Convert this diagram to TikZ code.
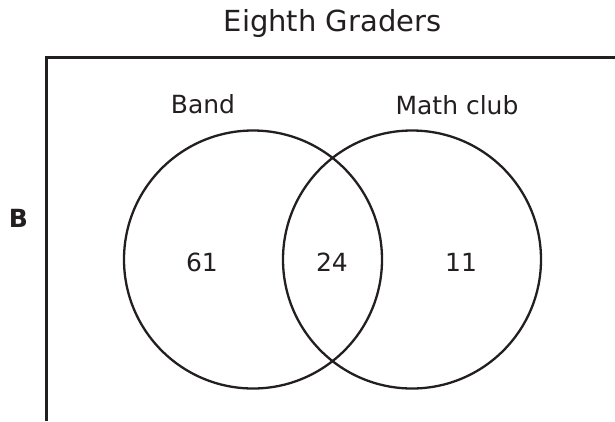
\documentclass[tikz,border=0pt]{standalone}
\usepackage{fontspec}
\setmainfont{DejaVu Sans}
\usepackage{tikz}
\usetikzlibrary{positioning}
\definecolor{ink}{HTML}{231F20}
\tikzset{
  venn/.style={draw=ink, line width=2.3pt},
  lbl/.style={text=ink, inner sep=0pt, anchor=base, font=\fontsize{25}{29}\selectfont},
}

\begin{document}
\begin{tikzpicture}[x=1pt,y=-1pt]
  \useasboundingbox (0,0) rectangle (615,421);
  % frame: only top and left sides show
  \draw[ink, line width=2.5pt] (615,57.7) -- (46.5,57.7) -- (46.5,421);
  \node[lbl, font=\fontsize{29}{33}\selectfont] (title) at (332.5,31.7) {Eighth Graders};
  \node[text=ink, inner sep=0pt, font=\fontsize{25}{28}\selectfont\bfseries] (opt) at (18.5,218) {B};
  % the two sets
  \draw[venn] (253,259.5) circle (129);
  \draw[venn] (412,259.5) circle (129);
  \node[lbl] (band) at (203,113.3) {Band};
  \node[lbl] (math) at (457,114.5) {Math club};
  \node[lbl] (onlyband) at (202,271) {61};
  \node[lbl] (both) at (332,271) {24};
  \node[lbl] (onlymath) at (461,271) {11};
\end{tikzpicture}
\end{document}
